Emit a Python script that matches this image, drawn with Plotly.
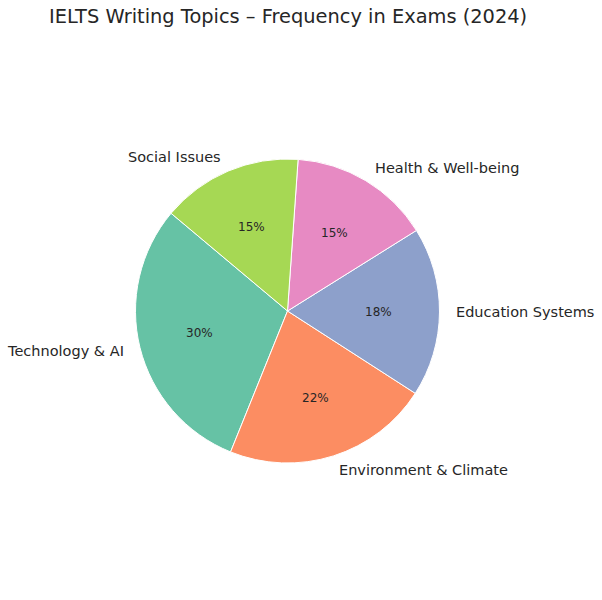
import math
import plotly.graph_objects as go

labels = ["Technology & AI", "Environment & Climate", "Education Systems",
          "Health & Well-being", "Social Issues"]
values = [30, 22, 18, 15, 15]
colors = ["#66c2a5", "#fc8d62", "#8da0cb", "#e78ac3", "#a6d854"]
title_text = "IELTS Writing Topics – Frequency in Exams (2024)"
start_angle = 140  # degrees, counterclockwise from 3 o'clock

W, H = 602, 600
cx, cy, r = 287.5, 311.0, 152.0  # pie centre / radius in pixels
text_color = "#262626"
font_family = "DejaVu Sans"

total = sum(values)
first_span = 360.0 * values[0] / total
# plotly (counterclockwise): rotation marks where the first slice ends,
# measured clockwise from 12 o'clock
first_end_math = start_angle + first_span
rotation = 90.0 - first_end_math
while rotation < -360:
    rotation += 360
while rotation > 360:
    rotation -= 360

fig = go.Figure(go.Pie(
    labels=labels,
    values=values,
    sort=False,
    direction="counterclockwise",
    rotation=rotation,
    marker=dict(colors=colors, line=dict(color="white", width=1)),
    textinfo="none",
    hoverinfo="label+percent",
    showlegend=False,
    domain=dict(x=[(cx - r) / W, (cx + r) / W],
                y=[(H - cy - r) / H, (H - cy + r) / H]),
))

ann = []
angle = start_angle
for lab, v in zip(labels, values):
    span = 360.0 * v / total
    mid = math.radians(angle + span / 2)
    angle += span
    c, s = math.cos(mid), math.sin(mid)
    lx = cx + 1.1 * r * c
    ly = cy - 1.1 * r * s
    ann.append(dict(x=lx / W, y=(H - ly) / H, xref="paper", yref="paper",
                    text=lab, showarrow=False,
                    xanchor="left" if c > 0 else "right", yanchor="middle",
                    xshift=-1 if c > 0 else 1,
                    font=dict(size=14.5, color=text_color, family=font_family)))
    px = cx + 0.6 * r * c
    py = cy - 0.6 * r * s
    ann.append(dict(x=px / W, y=(H - py) / H, xref="paper", yref="paper",
                    text=f"{100.0 * v / total:.0f}%", showarrow=False,
                    xanchor="center", yanchor="middle",
                    font=dict(size=12, color=text_color, family=font_family)))

ann.append(dict(x=cx / W, y=1 - 17 / H, xref="paper", yref="paper",
                text=title_text, showarrow=False,
                xanchor="center", yanchor="middle",
                font=dict(size=19.4, color=text_color, family=font_family)))

fig.update_layout(
    width=W, height=H,
    margin=dict(l=0, r=0, t=0, b=0),
    paper_bgcolor="white", plot_bgcolor="white",
    annotations=ann,
    font=dict(family=font_family, color=text_color),
)

fig.write_html("out.html",
               config={"displayModeBar": False},
               post_script="document.body.style.margin='0px';")
